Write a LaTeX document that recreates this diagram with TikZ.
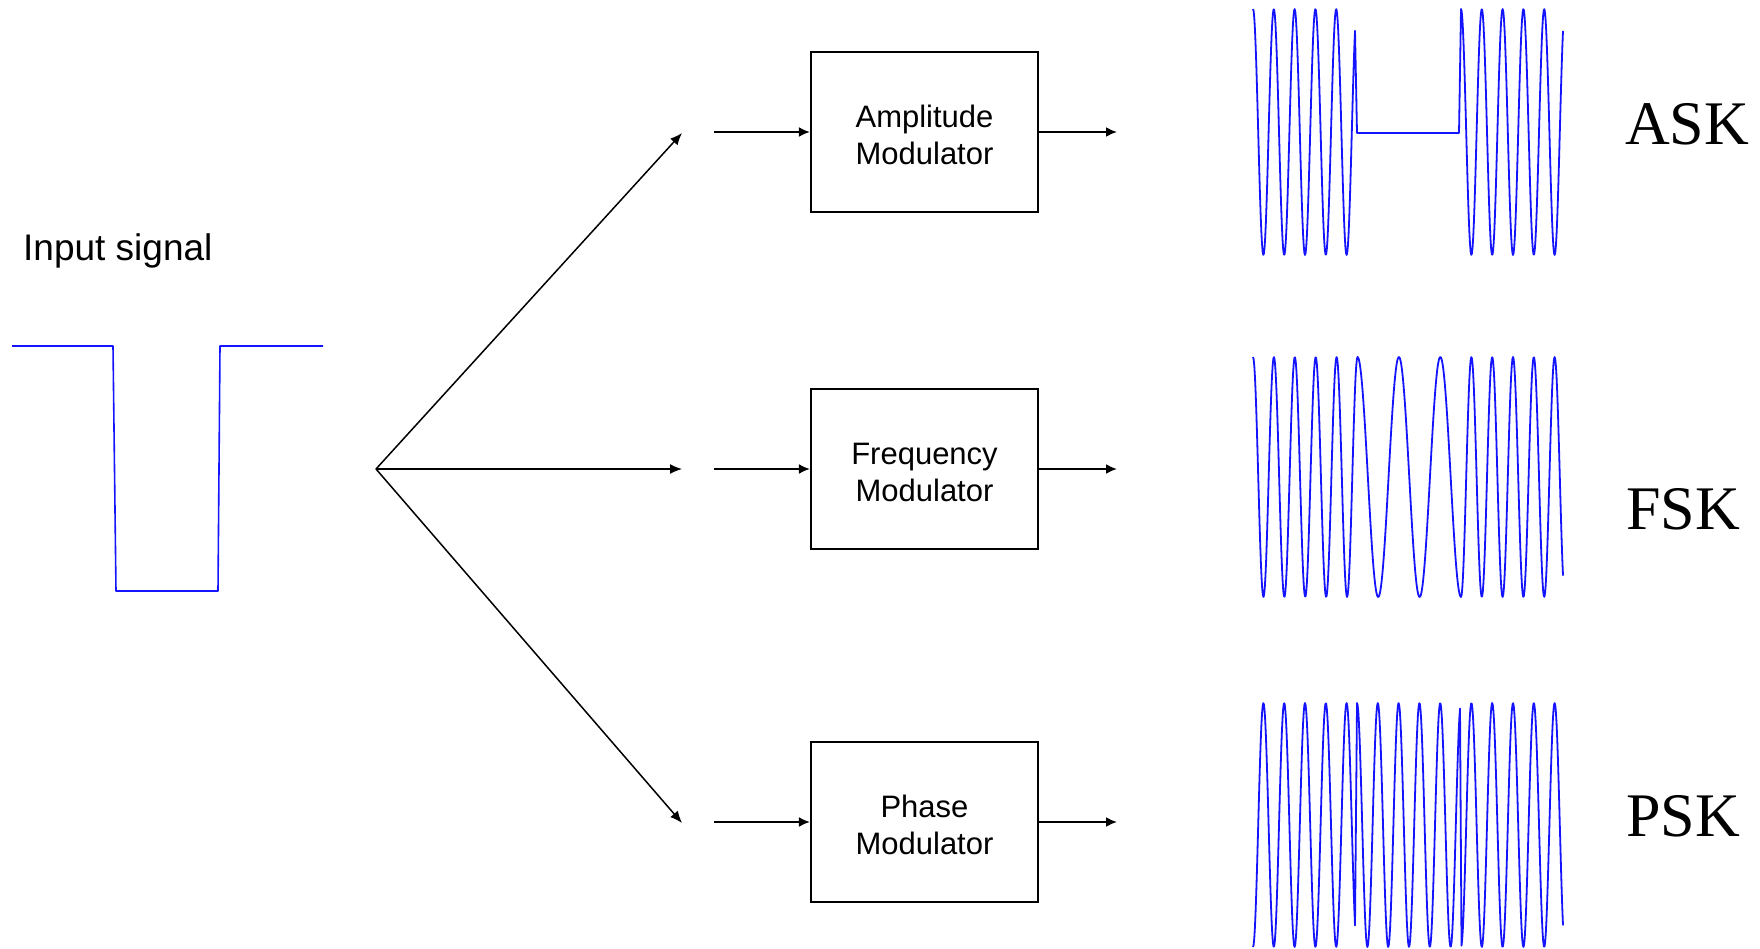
\documentclass[tikz,border=0pt]{standalone}
\usepackage{fontspec}
\setmainfont{Liberation Sans}
\newfontfamily\serifk{Liberation Serif}
\usetikzlibrary{arrows.meta}
\begin{document}
\begin{tikzpicture}[x=1pt,y=-1pt,
  modbox/.style={draw, line width=2.2pt, minimum width=227pt, minimum height=160pt, inner sep=0pt},
  boxtext/.style={inner sep=0pt, align=center, font=\fontsize{31}{37}\selectfont},
  conn/.style={line width=2pt, -{Latex[length=11pt,width=10pt]}},
  fanconn/.style={line width=1.5pt, -{Latex[length=12pt,width=10pt]}},
  wave/.style={draw={rgb,255:red,20;green,20;blue,255}, line width=1.8pt, line join=round},
  klabel/.style={anchor=base west, inner sep=0pt, font=\serifk\fontsize{62}{62}\selectfont}]
\useasboundingbox (0,0) rectangle (1760,949);
% input signal
\node[anchor=base west, inner sep=0pt, font=\fontsize{37}{40}\selectfont] (intext) at (23,261) {Input signal};
\draw[wave, line width=1.6pt] (12,346) -- (113,346) -- (116,591) -- (218,591) -- (220,346) -- (323,346);
% fan
\coordinate (fan) at (376,469);
\coordinate (ta) at (682,133);
\coordinate (tf) at (682,469);
\coordinate (tp) at (682,823);
\draw[fanconn] (fan) -- (ta);
\draw[fanconn] (fan) -- (tf);
\draw[fanconn] (fan) -- (tp);
% boxes
\node[modbox] (am) at (924.5,132) {};
\node[modbox] (fm) at (924.5,469) {};
\node[modbox] (pm) at (924.5,822) {};
\node[boxtext] (amt) at ([yshift=-3pt]am.center) {Amplitude\\Modulator};
\node[boxtext] (fmt) at ([yshift=-3pt]fm.center) {Frequency\\Modulator};
\node[boxtext] (pmt) at ([yshift=-3pt]pm.center) {Phase\\Modulator};
\coordinate (ain) at (714,132);
\coordinate (fin) at (714,469);
\coordinate (pin) at (714,822);
\coordinate (aout) at (1117,132);
\coordinate (fout) at (1117,469);
\coordinate (pout) at (1117,822);
\draw[conn] (ain) -- (am.west);
\draw[conn] (fin) -- (fm.west);
\draw[conn] (pin) -- (pm.west);
\draw[conn] (am.east) -- (aout);
\draw[conn] (fm.east) -- (fout);
\draw[conn] (pm.east) -- (pout);
% ASK
\draw[wave] plot[domain=1253:1355, samples=160] (\x,{132-123*cos((\x-1253)*17.3077)})
  -- (1357,133) -- (1459,133)
  -- plot[domain=1461:1563, samples=160] (\x,{132-123*cos((\x-1253)*17.3077)});
% FSK
\draw[wave] plot[domain=1253:1357.5, samples=160] (\x,{477-120*cos((\x-1253)*17.2249)})
  -- plot[domain=1357.5:1461, samples=160] (\x,{477-120*cos((\x-1357.5)*8.6957)})
  -- plot[domain=1461:1563, samples=160] (\x,{477+120*cos((\x-1461)*17.3077)});
% PSK
\draw[wave] plot[domain=1253:1355, samples=160] (\x,{825+122*cos((\x-1253)*17.3077)})
  -- plot[domain=1357:1460, samples=160] (\x,{825-122*cos((\x-1253)*17.3077)})
  -- plot[domain=1461.5:1563, samples=160] (\x,{825+122*cos((\x-1253)*17.3077)});
% labels
\node[klabel] (ask) at (1625,145) {ASK};
\node[klabel] (fsk) at (1626,529) {FSK};
\node[klabel] (psk) at (1626,836) {PSK};
\end{tikzpicture}
\end{document}
